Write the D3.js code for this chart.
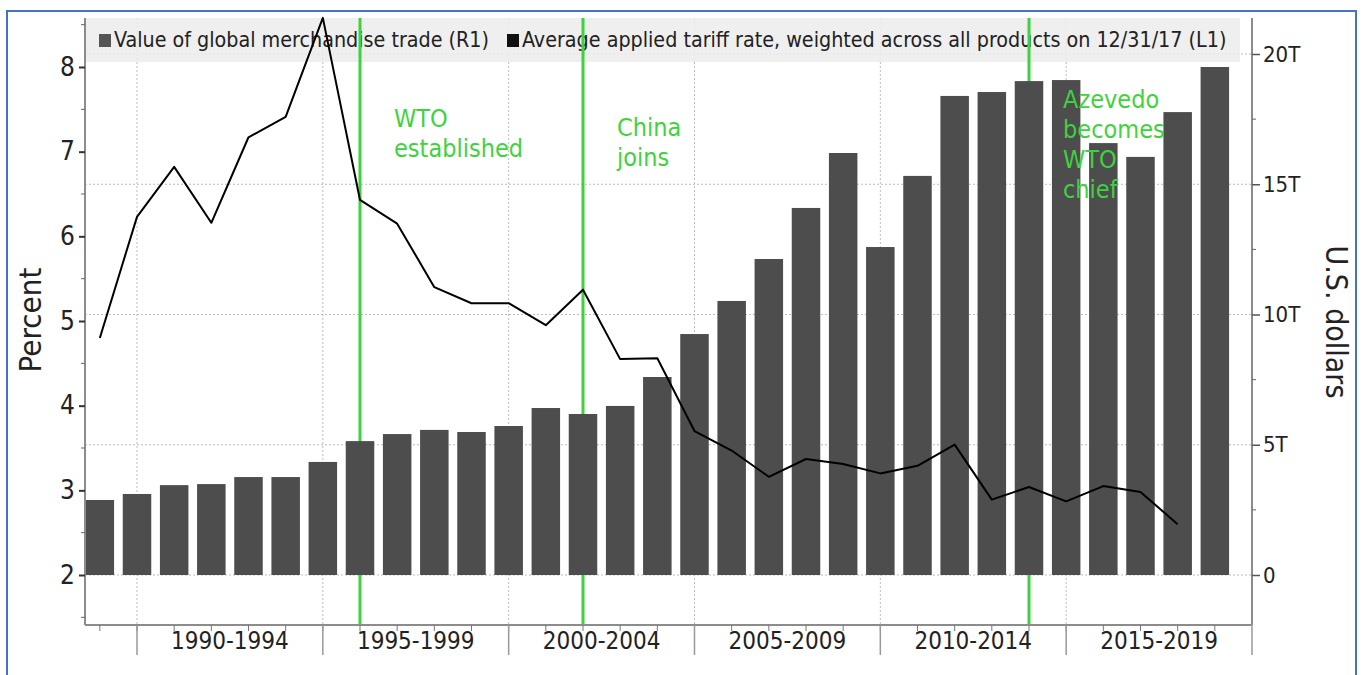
<!DOCTYPE html>
<html>
<head>
<meta charset="utf-8">
<script src="https://cdn.jsdelivr.net/npm/d3@7"></script>
<style>
  body { margin: 0; background: #fff; }
  svg text { font-family: "DejaVu Sans Condensed", "DejaVu Sans", sans-serif; font-stretch: condensed; }
</style>
</head>
<body>
<div id="chart"></div>
<script>
// data, one value per year (plotted at year end)
var years = d3.range(1988, 2019);
var tradeTrillions = [2.88, 3.11, 3.45, 3.49, 3.76, 3.76, 4.34, 5.14, 5.41, 5.57, 5.49, 5.72, 6.41, 6.18, 6.49,
  7.60, 9.25, 10.52, 12.13, 14.09, 16.20, 12.59, 15.32, 18.39, 18.54, 18.96, 19.00, 16.58, 16.05, 17.77, 19.50];
var tariffYears = d3.range(1988, 2018);
var tariffPct = [4.80, 6.23, 6.82, 6.16, 7.17, 7.41, 8.58, 6.43, 6.15, 5.40, 5.21, 5.21, 4.95, 5.37, 4.55,
  4.56, 3.70, 3.47, 3.16, 3.37, 3.31, 3.20, 3.29, 3.54, 2.89, 3.04, 2.87, 3.05, 2.98, 2.60];
var periodLabels = ["1990-1994", "1995-1999", "2000-2004", "2005-2009", "2010-2014", "2015-2019"];
var leftTicks = [2, 3, 4, 5, 6, 7, 8];
var rightTicks = [0, 5, 10, 15, 20];
var events = [
  {year: 1995, lines: ["WTO", "established"]},
  {year: 2001, lines: ["China", "joins"]},
  {year: 2013, lines: ["Azevedo", "becomes", "WTO", "chief"]}
];

var W = 1364, H = 675;
var plot = {left: 85, right: 1252, top: 18, bottom: 625};

var svg = d3.select("#chart").append("svg")
  .attr("width", W)
  .attr("height", H);

// scales
var x = d3.scaleLinear().domain([1990, 2020]).range([137, 1252]);
var yL = d3.scaleLinear().domain([2, 8]).range([575, 67]);
var yR = d3.scaleLinear().domain([0, 20]).range([575, 54]);
function xEnd(yr) { return x(yr + 1); } // year-end position

// outer blue frame
svg.append("rect")
  .attr("x", 7).attr("y", 11)
  .attr("width", 1349).attr("height", 700)
  .attr("fill", "none")
  .attr("stroke", "#4472c4")
  .attr("stroke-width", 2);

// gridlines
var grid = svg.append("g").attr("class", "grid");
grid.selectAll(".hgrid")
  .data(rightTicks)
  .enter().append("line")
  .attr("x1", plot.left).attr("x2", plot.right)
  .attr("y1", function(d) { return yR(d); })
  .attr("y2", function(d) { return yR(d); })
  .attr("stroke", "#bdbdbd")
  .attr("stroke-dasharray", "2,2");
grid.selectAll(".vgrid")
  .data(d3.range(1990, 2020, 5))
  .enter().append("line")
  .attr("x1", function(d) { return x(d); })
  .attr("x2", function(d) { return x(d); })
  .attr("y1", plot.top).attr("y2", plot.bottom)
  .attr("stroke", "#bdbdbd")
  .attr("stroke-dasharray", "2,2");

// legend band
svg.append("rect")
  .attr("x", plot.left + 1).attr("y", plot.top)
  .attr("width", 1154).attr("height", 44)
  .attr("fill", "#ececec")
  .attr("opacity", 0.85);
var legend = [
  {x: 99, color: "#555", label: "Value of global merchandise trade (R1)"},
  {x: 507, color: "#111", label: "Average applied tariff rate, weighted across all products on 12/31/17 (L1)"}
];
legend.forEach(function(l) {
  svg.append("rect")
    .attr("x", l.x).attr("y", 34)
    .attr("width", 12).attr("height", 13)
    .attr("fill", l.color);
  svg.append("text")
    .attr("x", l.x + 15).attr("y", 47)
    .attr("font-size", 21.3)
    .attr("fill", "#222")
    .text(l.label);
});

// event lines (behind bars)
svg.selectAll(".event")
  .data(events)
  .enter().append("line")
  .attr("x1", function(d) { return xEnd(d.year); })
  .attr("x2", function(d) { return xEnd(d.year); })
  .attr("y1", plot.top).attr("y2", plot.bottom)
  .attr("stroke", "#3fd23f")
  .attr("stroke-width", 3);

// bars
var barW = 28.5;
svg.append("g")
  .selectAll("rect")
  .data(years)
  .enter().append("rect")
  .attr("x", function(d) { return xEnd(d) - barW / 2; })
  .attr("y", function(d, i) { return yR(tradeTrillions[i]); })
  .attr("width", barW)
  .attr("height", function(d, i) { return yR(0) - yR(tradeTrillions[i]); })
  .attr("fill", "#4d4d4d");

// tariff line
var line = d3.line()
  .x(function(d) { return xEnd(d); })
  .y(function(d, i) { return yL(tariffPct[i]); });
svg.append("path")
  .datum(tariffYears)
  .attr("d", line)
  .attr("fill", "none")
  .attr("stroke", "#000")
  .attr("stroke-width", 2)
  .attr("stroke-linejoin", "round");

// event labels
events.forEach(function(e) {
  var t = svg.append("text")
    .attr("x", xEnd(e.year) + 34)
    .attr("y", e.lines.length > 2 ? 108 : (e.year == 1995 ? 127 : 136))
    .attr("font-size", 25)
    .attr("fill", "#3fd23f");
  e.lines.forEach(function(s, i) {
    t.append("tspan")
      .attr("x", xEnd(e.year) + 34)
      .attr("dy", i == 0 ? 0 : 30)
      .text(s);
  });
});

// axes lines
var axisColor = "#8c8c8c";
svg.append("line")
  .attr("x1", plot.left).attr("x2", plot.left)
  .attr("y1", plot.top).attr("y2", plot.bottom)
  .attr("stroke", axisColor).attr("stroke-width", 2);
svg.append("line")
  .attr("x1", plot.right).attr("x2", plot.right)
  .attr("y1", plot.top).attr("y2", plot.bottom)
  .attr("stroke", axisColor).attr("stroke-width", 2);
svg.append("line")
  .attr("x1", plot.left).attr("x2", plot.right)
  .attr("y1", plot.bottom).attr("y2", plot.bottom)
  .attr("stroke", axisColor).attr("stroke-width", 2);

// left axis
var leftAxis = d3.axisLeft(yL)
  .tickValues(leftTicks)
  .tickSize(6)
  .tickPadding(4)
  .tickFormat(d3.format("d"));
var gL = svg.append("g")
  .attr("transform", "translate(" + plot.left + ",0)")
  .call(leftAxis);
gL.select(".domain").remove();
gL.selectAll(".tick line").attr("stroke", "#333").attr("stroke-width", 2);
gL.selectAll(".tick text").attr("font-size", 26).attr("fill", "#222")
  .style("font-family", "'DejaVu Sans Condensed', 'DejaVu Sans', sans-serif");
// minor ticks left
svg.append("g").selectAll("line")
  .data(d3.range(1.5, 8.6, 0.5).filter(function(v) { return v % 1 != 0; }))
  .enter().append("line")
  .attr("x1", plot.left - 4).attr("x2", plot.left)
  .attr("y1", function(d) { return yL(d); })
  .attr("y2", function(d) { return yL(d); })
  .attr("stroke", "#666");

// right axis
var rightAxis = d3.axisRight(yR)
  .tickValues(rightTicks)
  .tickSize(8)
  .tickPadding(3)
  .tickFormat(function(d) { return d == 0 ? "0" : d + "T"; });
var gR = svg.append("g")
  .attr("transform", "translate(" + plot.right + ",0)")
  .call(rightAxis);
gR.select(".domain").remove();
gR.selectAll(".tick line").attr("stroke", "#555").attr("stroke-width", 1.5);
gR.selectAll(".tick text").attr("font-size", 22).attr("fill", "#222")
  .style("font-family", "'DejaVu Sans Condensed', 'DejaVu Sans', sans-serif");
svg.append("g").selectAll("line")
  .data([2.5, 7.5, 12.5, 17.5])
  .enter().append("line")
  .attr("x1", plot.right).attr("x2", plot.right + 4)
  .attr("y1", function(d) { return yR(d); })
  .attr("y2", function(d) { return yR(d); })
  .attr("stroke", "#666");

// bottom axis: year ticks, long ticks at 5-year bounds
var gB = svg.append("g");
gB.selectAll(".minor")
  .data(d3.range(1989, 2020))
  .enter().append("line")
  .attr("x1", function(d) { return x(d); })
  .attr("x2", function(d) { return x(d); })
  .attr("y1", plot.bottom).attr("y2", plot.bottom + 6)
  .attr("stroke", "#777");
gB.selectAll(".major")
  .data(d3.range(1990, 2021, 5))
  .enter().append("line")
  .attr("x1", function(d) { return x(d); })
  .attr("x2", function(d) { return x(d); })
  .attr("y1", plot.bottom).attr("y2", plot.bottom + 30)
  .attr("stroke", "#999")
  .attr("stroke-width", 1.5);
gB.selectAll("text")
  .data(periodLabels)
  .enter().append("text")
  .attr("x", function(d, i) { return (x(1990 + 5 * i) + x(1995 + 5 * i)) / 2; })
  .attr("y", 649)
  .attr("text-anchor", "middle")
  .attr("font-size", 24)
  .attr("fill", "#222")
  .text(function(d) { return d; });

// axis titles
svg.append("text")
  .attr("transform", "translate(41,320) rotate(-90)")
  .attr("text-anchor", "middle")
  .attr("font-size", 31)
  .attr("fill", "#222")
  .text("Percent");
svg.append("text")
  .attr("transform", "translate(1326,322) rotate(90)")
  .attr("text-anchor", "middle")
  .attr("font-size", 30)
  .attr("fill", "#222")
  .text("U.S. dollars");
</script>
</body>
</html>
